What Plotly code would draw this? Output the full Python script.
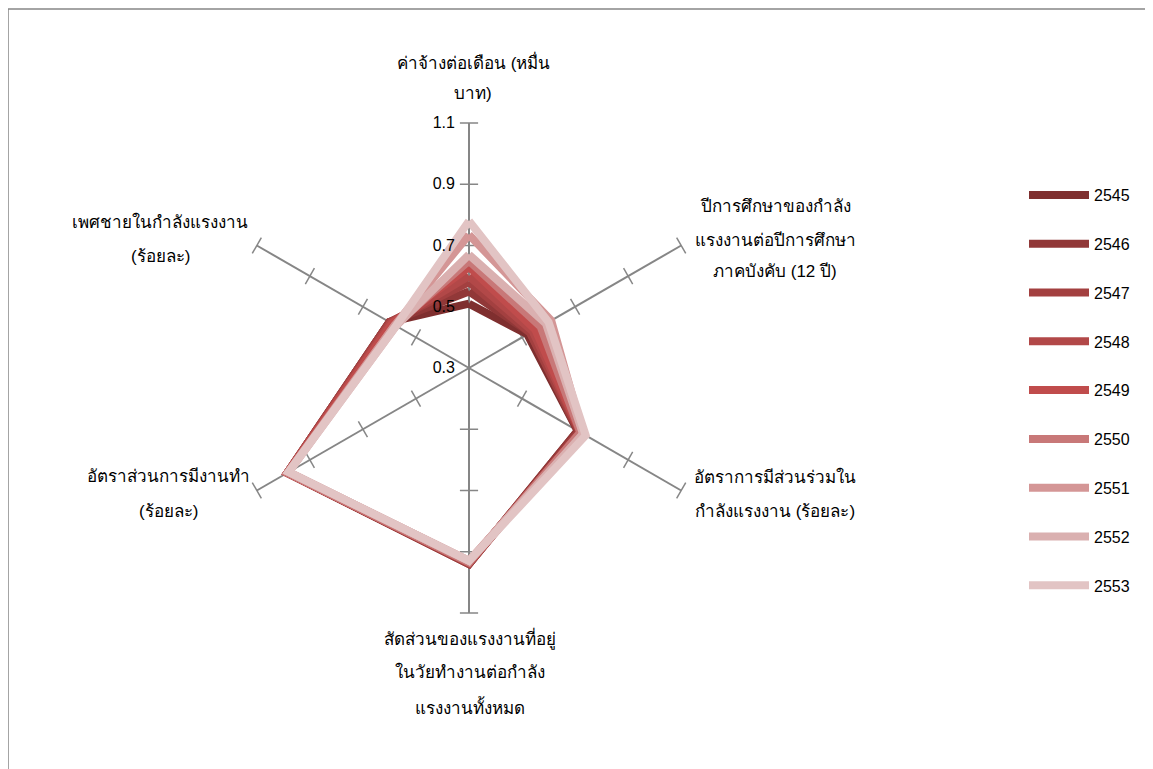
import plotly.graph_objects as go

years = ["2545", "2546", "2547", "2548", "2549", "2550", "2551", "2552", "2553"]
categories = ["wage", "educ", "particip", "workage", "employ", "male"]
category_labels = [
    ["ค่าจ้างต่อเดือน (หมื่น", "บาท)"],
    ["ปีการศึกษาของกำลัง", "แรงงานต่อปีการศึกษา", "ภาคบังคับ (12 ปี)"],
    ["อัตราการมีส่วนร่วมใน", "กำลังแรงงาน (ร้อยละ)"],
    ["สัดส่วนของแรงงานที่อยู่", "ในวัยทำงานต่อกำลัง", "แรงงานทั้งหมด"],
    ["อัตราส่วนการมีงานทำ", "(ร้อยละ)"],
    ["เพศชายในกำลังแรงงาน", "(ร้อยละ)"],
]
# values per axis, one per year (2545..2553)
wage = [0.51, 0.55, 0.58, 0.60, 0.63, 0.65, 0.735, 0.67, 0.78]
educ = [0.52, 0.53, 0.53, 0.54, 0.55, 0.57, 0.61, 0.59, 0.60]
particip = [0.71, 0.71, 0.715, 0.72, 0.72, 0.72, 0.73, 0.73, 0.74]
workage = [0.94, 0.94, 0.94, 0.935, 0.935, 0.935, 0.93, 0.93, 0.93]
employ = [0.985, 0.985, 0.985, 0.985, 0.985, 0.985, 0.98, 0.98, 0.98]
male = [0.60, 0.60, 0.60, 0.595, 0.59, 0.58, 0.58, 0.575, 0.575]

tick_vals = [0.3, 0.5, 0.7, 0.9, 1.1]
colors = ["#7F2F2F", "#913838", "#A34040", "#B24848", "#C04C4C",
          "#C87878", "#D49696", "#DAB0B0", "#E2C4C4"]

FONT = "Liberation Sans, Arial, sans-serif"
W, H = 1153, 769
OX, OY = 9, 8  # page offset of the plot in the browser


def px(sx, sy):
    return (sx - OX) / W, 1 - (sy - OY) / H


fig = go.Figure()

# tick crosses on every spoke
tr, tt, ta = [], [], []
for i, c in enumerate(categories):
    for v in tick_vals[1:]:
        tr.append(v)
        tt.append(c)
        ta.append(60 * i)
fig.add_trace(go.Scatterpolar(
    r=tr, theta=tt, mode="markers", showlegend=False, hoverinfo="skip",
    marker=dict(symbol="line-ew", size=13, angle=ta,
                line=dict(color="#868686", width=1.5))))

axes = [wage, educ, particip, workage, employ, male]
for k, y in enumerate(years):
    vals = [a[k] for a in axes]
    fig.add_trace(go.Scatterpolar(
        r=vals + [vals[0]], theta=categories + [categories[0]],
        mode="lines", name=y, legendgroup=y,
        line=dict(color=colors[k], width=8)))

# category label placement (screen px: centre x, line centre ys)
label_pos = [
    (474, [62, 93]),
    (776, [207, 240, 272]),
    (776, [477, 511]),
    (471, [638, 672, 707]),
    (169, [476, 511]),
    (161, [222, 256]),
]
annotations = []
for lines, (cx, ys) in zip(category_labels, label_pos):
    for text, cy in zip(lines, ys):
        x, y = px(cx, cy)
        annotations.append(dict(text=text, x=x, y=y, xref="paper", yref="paper",
                                xanchor="center", yanchor="middle",
                                showarrow=False,
                                font=dict(size=17, family=FONT, color="black")))

cx0, cy0 = 470, 368
R = 245
dx0, dx1 = px(cx0 - R, 0)[0], px(cx0 + R, 0)[0]
dy1, dy0 = px(0, cy0 - R)[1], px(0, cy0 + R)[1]

fig.update_layout(
    width=W, height=H,
    margin=dict(l=0, r=0, t=0, b=0),
    paper_bgcolor="white", plot_bgcolor="white",
    font=dict(family=FONT, size=16, color="black"),
    polar=dict(
        domain=dict(x=[dx0, dx1], y=[dy0, dy1]),
        bgcolor="white",
        gridshape="linear",
        angularaxis=dict(rotation=90, direction="clockwise", showline=False,
                         showgrid=True, gridcolor="#868686", gridwidth=1.5,
                         ticks="", showticklabels=False),
        radialaxis=dict(range=[0.3, 1.1], tickvals=tick_vals,
                        ticktext=[f"{v:.1f}" for v in tick_vals],
                        showgrid=False, showline=False, angle=90,
                        side="counterclockwise", tickangle=90,
                        ticks="outside", ticklen=8, tickcolor="rgba(0,0,0,0)",
                        tickfont=dict(size=16, family=FONT)),
    ),
    legend=dict(x=px(1025, 0)[0], y=px(0, 178)[1], xanchor="left", yanchor="top",
                itemwidth=60, tracegroupgap=25,
                font=dict(size=16, family=FONT)),
    annotations=annotations,
    shapes=[dict(type="rect", xref="paper", yref="paper",
                 x0=px(9, 0)[0], x1=1.05, y0=-0.05, y1=px(0, 9)[1],
                 line=dict(color="#868686", width=1.5), layer="below")],
)

fig.write_html("out.html")
